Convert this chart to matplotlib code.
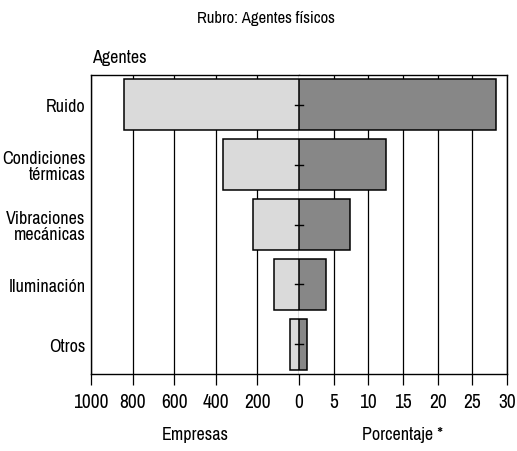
import matplotlib.pyplot as plt

agentes = ['Ruido', 'Condiciones\ntérmicas', 'Vibraciones\nmecánicas', 'Iluminación', 'Otros']
empresas = [840, 367, 220, 119, 42]
porcentaje = [28.4, 12.5, 7.4, 3.9, 1.15]

emp_ticks = [1000, 800, 600, 400, 200, 0]
pct_ticks = [5, 10, 15, 20, 25, 30]

plt.rcParams['font.family'] = ['Archivo Narrow', 'DejaVu Sans']
plt.rcParams['font.weight'] = 'medium'

fig = plt.figure(figsize=(5.17, 4.52), dpi=100)
axl = fig.add_axes([91 / 517, 1 - 375 / 452, 208 / 517, 299 / 452])
axr = fig.add_axes([299 / 517, 1 - 375 / 452, 208 / 517, 299 / 452])

y = list(range(len(agentes)))

axl.barh(y, empresas, height=0.85, color='#dadada', edgecolor='black', linewidth=1.1, zorder=3)
axr.barh(y, porcentaje, height=0.85, color='#878787', edgecolor='black', linewidth=1.1, zorder=3)

axl.set_xlim(1000, 0)
axr.set_xlim(0, 30)
for ax in (axl, axr):
    ax.set_ylim(len(agentes) - 0.5, -0.5)
    ax.grid(axis='x', color='black', linewidth=0.9, zorder=1)
    ax.tick_params(axis='x', direction='out', length=8, width=0.9, labelsize=14, pad=5)
    for s in ax.spines.values():
        s.set_linewidth(1)

axl.set_xticks(emp_ticks)
axl.set_xticklabels([str(t) for t in emp_ticks])
axr.set_xticks(pct_ticks)
axr.set_xticklabels([str(t) for t in pct_ticks])
axl.spines['right'].set_visible(False)
axr.spines['left'].set_visible(False)

axl.set_yticks(y)
axl.set_yticklabels(agentes, fontsize=13, linespacing=1.0)
axl.tick_params(axis='y', length=0, pad=4)
axr.set_yticks([])

# small center marks on the zero line
for yi in y:
    axr.plot([-0.6, 0.6], [yi, yi], color='black', linewidth=1, zorder=4, clip_on=False)

axl.set_xlabel('Empresas', fontsize=13, labelpad=11)
axr.set_xlabel('Porcentaje *', fontsize=13, labelpad=11)

fig.text(266 / 517, 1 - 18 / 452, 'Rubro: Agentes físicos', ha='center', va='center', fontsize=12)
fig.text(92 / 517, 1 - 58 / 452, 'Agentes', ha='left', va='center', fontsize=13)

fig.savefig('out.png', dpi=100)
